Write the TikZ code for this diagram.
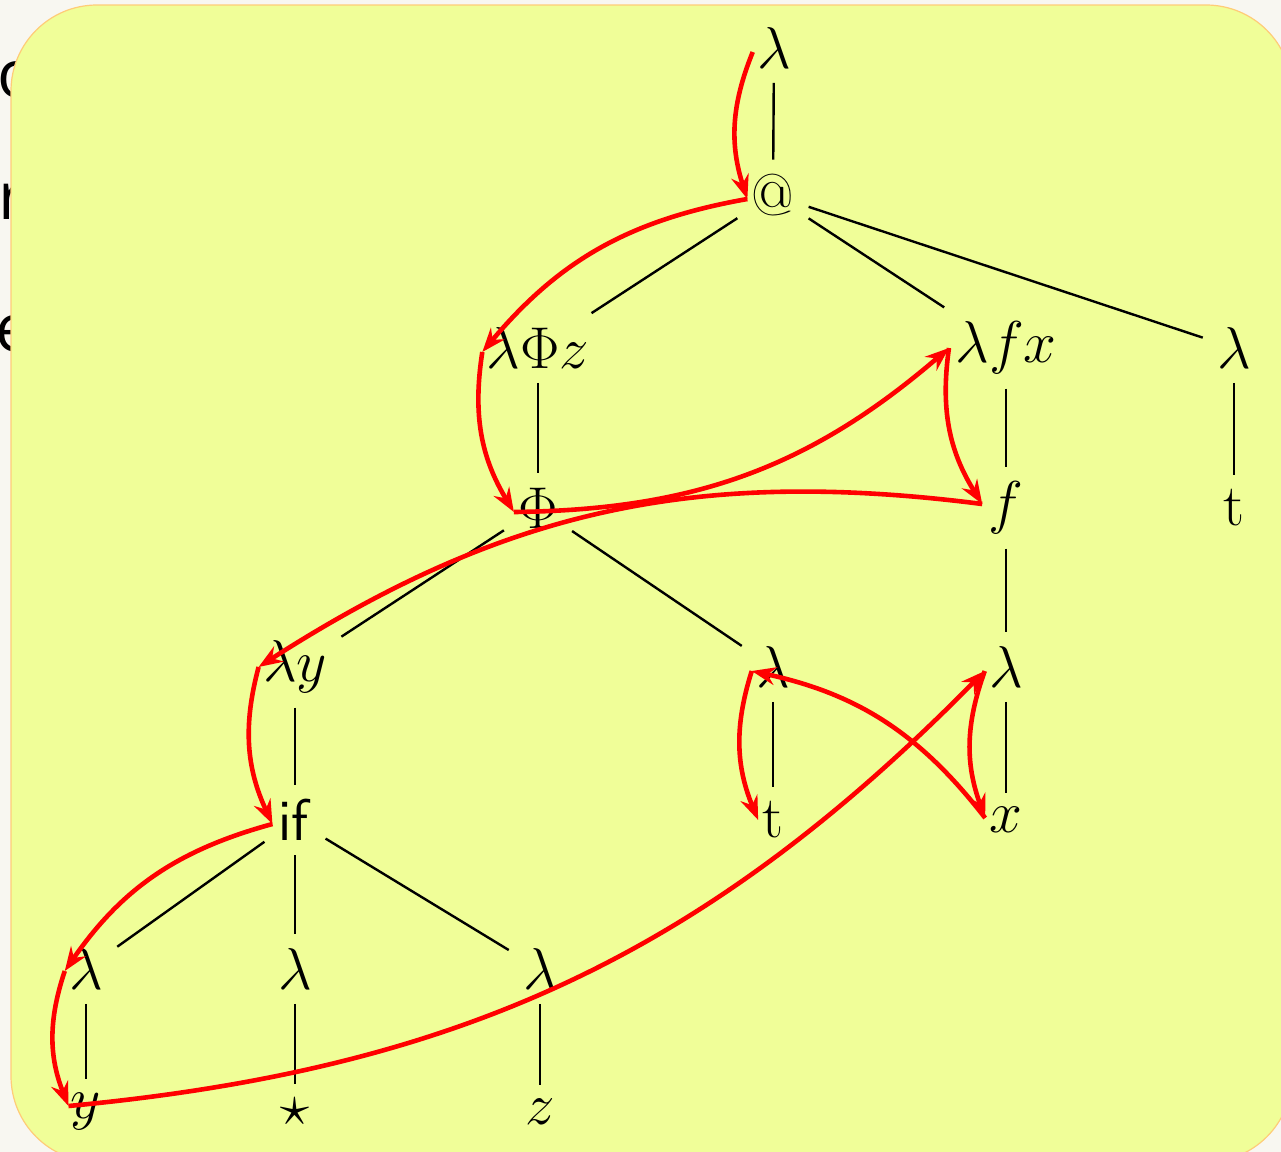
\RequirePackage{fix-cm}
\documentclass[tikz,border=0pt]{standalone}
\usepackage{fontspec}
\newfontfamily\bgfont{Open Sans}
\usetikzlibrary{arrows.meta}
\definecolor{pagebg}{RGB}{248,247,241}
\definecolor{boxfill}{RGB}{240,254,152}
\definecolor{boxline}{RGB}{255,204,120}
\tikzset{
  tn/.style={inner sep=7pt, font=\fontsize{29.5}{35}\selectfont},
  tedge/.style={line width=1.2pt, black},
  ev/.style={draw=red, line width=2.3pt, -{Stealth[length=12pt,width=9pt,inset=4pt]}, bend right=20},
  bgtext/.style={anchor=base west, inner sep=0pt, font=\bgfont\fontsize{33}{40}\selectfont}
}
\begin{document}
\begin{tikzpicture}[x=0.5pt,y=0.5pt]
\useasboundingbox (0,0) rectangle (1281,-1152);
\fill[pagebg] (0,0) rectangle (1281,-1152);
\node[bgtext] (bg1) at (-3,-97) {o};
\node[bgtext] (bg2) at (-2,-219) {r};
\node[bgtext] (bg3) at (-5,-351) {e};
\begin{scope}
\clip (0,0) rectangle (1281,-1152);
\draw[fill=boxfill, draw=boxline, line width=0.6pt, rounded corners=43pt] (11,-5) rectangle (1292,-1162);
\end{scope}
% tree nodes
\node[tn] (l0) at (774,-48) {$\lambda$};
\node[tn] (app) at (773,-195) {$@$};
\node[tn] (lPz) at (538,-348) {$\lambda\Phi z$};
\node[tn] (lfx) at (1006,-348) {$\lambda f x$};
\node[tn] (lr) at (1234,-348) {$\lambda$};
\node[tn] (Phi) at (538,-508) {$\Phi$};
\node[tn] (f) at (1006,-508) {$f$};
\node[tn] (tr) at (1234,-508) {t};
\node[tn] (ly) at (295,-667) {$\lambda y$};
\node[tn] (lm) at (773,-667) {$\lambda$};
\node[tn] (lx) at (1006,-667) {$\lambda$};
\node[tn] (if) at (295,-820) {\textsf{if}};
\node[tn] (tm) at (773,-820) {t};
\node[tn] (x) at (1006,-820) {$x$};
\node[tn] (la) at (86,-969) {$\lambda$};
\node[tn] (lb) at (295,-969) {$\lambda$};
\node[tn] (lc) at (540,-969) {$\lambda$};
\node[tn] (y) at (86,-1112) {$y$};
\node[tn] (star) at (295,-1112) {$\star$};
\node[tn] (z) at (540,-1112) {$z$};
% tree edges
\draw[tedge] (l0) -- (app);
\draw[tedge] (app) -- (lPz);
\draw[tedge] (app) -- (lfx);
\draw[tedge] (app) -- (lr);
\draw[tedge] (lPz) -- (Phi);
\draw[tedge] (lfx) -- (f);
\draw[tedge] (lr) -- (tr);
\draw[tedge] (Phi) -- (ly);
\draw[tedge] (Phi) -- (lm);
\draw[tedge] (f) -- (lx);
\draw[tedge] (ly) -- (if);
\draw[tedge] (lm) -- (tm);
\draw[tedge] (lx) -- (x);
\draw[tedge] (if) -- (la);
\draw[tedge] (if) -- (lb);
\draw[tedge] (if) -- (lc);
\draw[tedge] (la) -- (y);
\draw[tedge] (lb) -- (star);
\draw[tedge] (lc) -- (z);
% evaluation path
\draw[ev] ([xshift=5pt,yshift=-2pt]l0.west) to ([xshift=5pt,yshift=-2pt]app.west);
\draw[ev] ([xshift=5pt,yshift=-2pt]app.west) to ([xshift=5pt,yshift=-2pt]lPz.west);
\draw[ev] ([xshift=5pt,yshift=-2pt]lPz.west) to ([xshift=5pt,yshift=-2pt]Phi.west);
\draw[ev] ([xshift=5pt,yshift=-2pt]Phi.west) to ([xshift=4pt]lfx.west);
\draw[ev] ([xshift=4pt]lfx.west) to ([xshift=4pt,yshift=2pt]f.west);
\draw[ev] ([xshift=4pt,yshift=2pt]f.west) to ([xshift=5pt]ly.west);
\draw[ev] ([xshift=5pt]ly.west) to ([xshift=4pt,yshift=-2pt]if.west);
\draw[ev] ([xshift=4pt,yshift=-2pt]if.west) to ([xshift=5pt,yshift=-1pt]la.west);
\draw[ev] ([xshift=5pt,yshift=-1pt]la.west) to ([xshift=6pt,yshift=3pt]y.west);
\draw[ev] ([xshift=6pt,yshift=3pt]y.west) to ([xshift=5pt,yshift=-2pt]lx.west);
\draw[ev] ([xshift=5pt,yshift=-2pt]lx.west) to ([xshift=5pt,yshift=1pt]x.west);
\draw[ev] ([xshift=5pt,yshift=1pt]x.west) to ([xshift=5pt,yshift=-2pt]lm.west);
\draw[ev] ([xshift=5pt,yshift=-2pt]lm.west) to ([xshift=5pt]tm.west);
\end{tikzpicture}
\end{document}
